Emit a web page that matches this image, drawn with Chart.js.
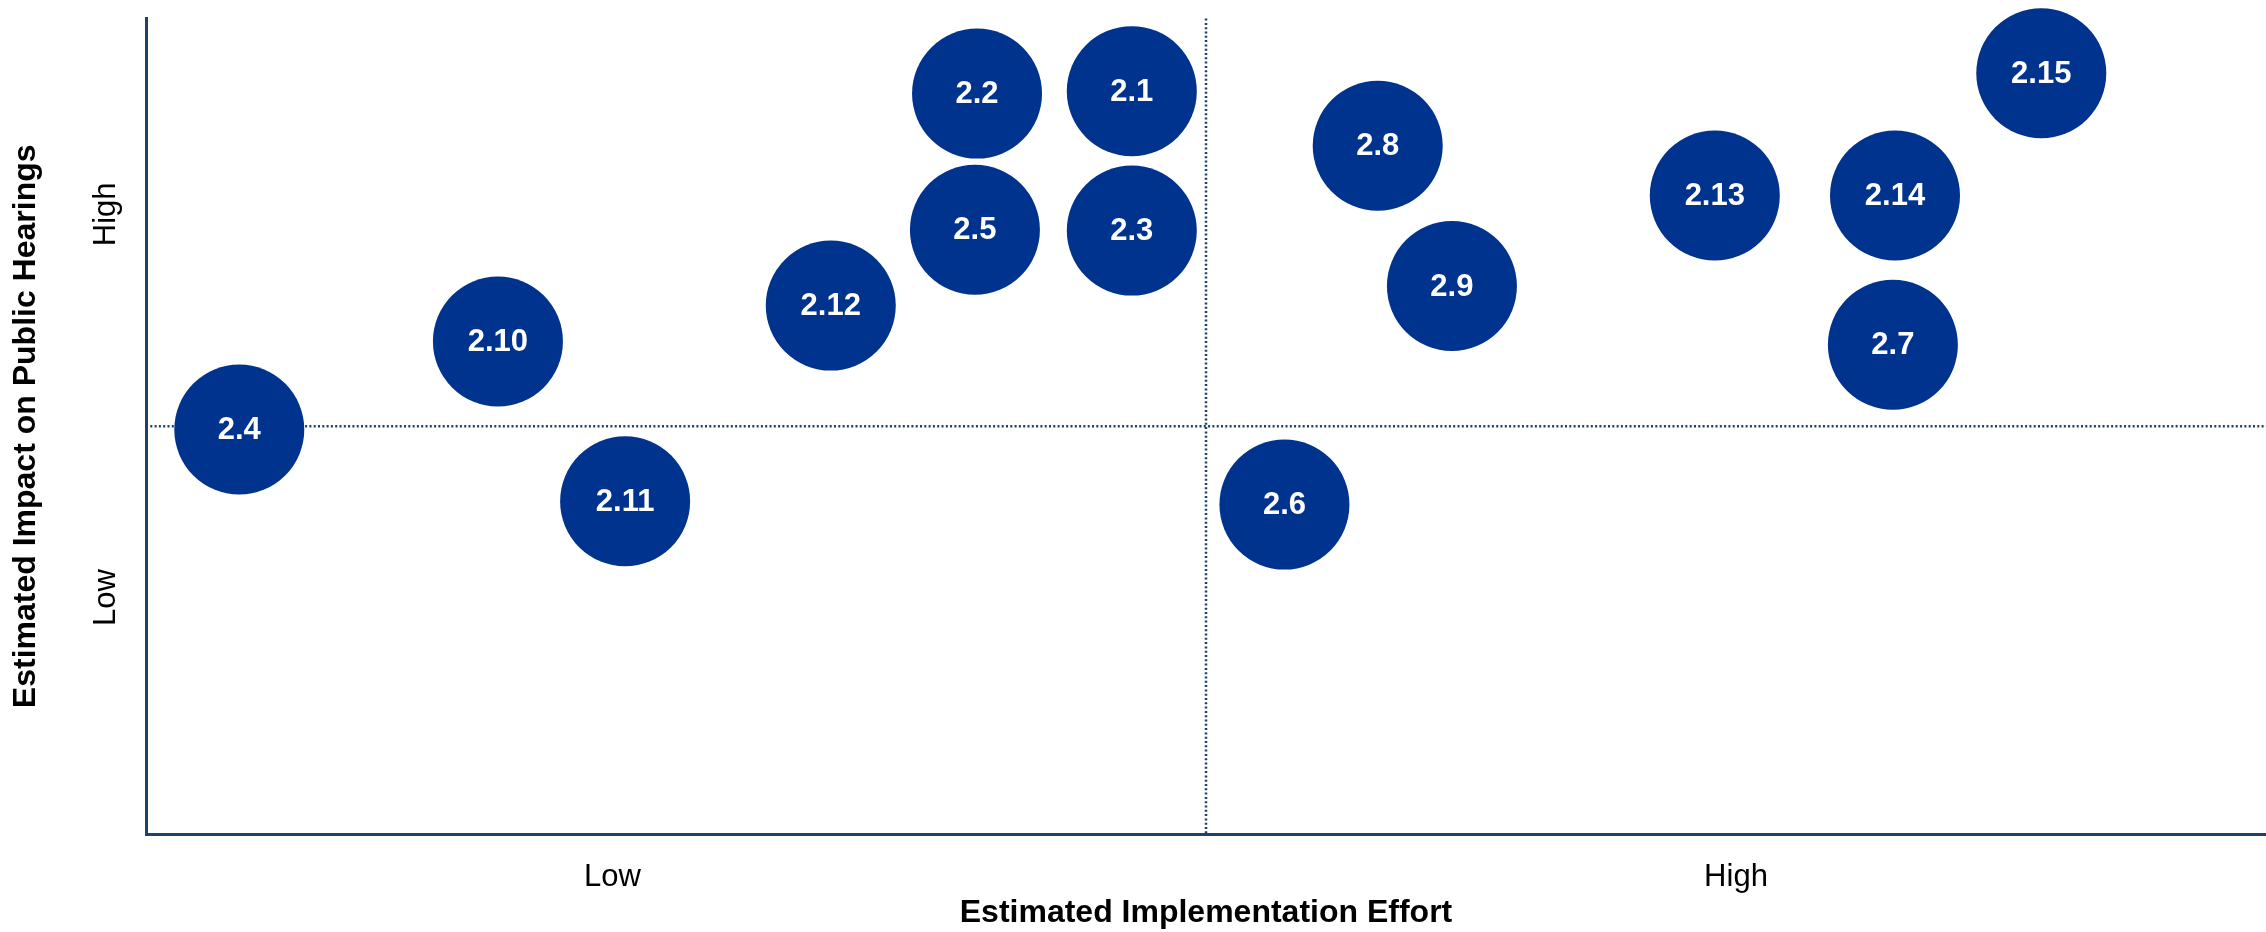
<!DOCTYPE html>
<html>
<head>
    <title>Impact vs Effort</title>
    <script src="https://cdn.jsdelivr.net/npm/chart.js"></script>
    <style>
        html, body {
            margin: 0;
            padding: 0;
            background: #fff;
        }
        .chart-container {
            width: 2266px;
            height: 932px;
        }
    </style>
</head>
<body>
    <div class="chart-container">
        <canvas id="matrixChart"></canvas>
    </div>
    <script>
        // recommendation ids and their estimated positions (0-10 scale, 5 = split)
        const itemLabels = ['2.1', '2.2', '2.3', '2.4', '2.5', '2.6', '2.7', '2.8', '2.9', '2.10', '2.11', '2.12', '2.13', '2.14', '2.15'];
        const effortValues = [4.65, 3.92, 4.65, 0.44, 3.91, 5.37, 8.24, 5.81, 6.16, 1.66, 2.26, 3.23, 7.40, 8.25, 8.94];
        const impactValues = [9.11, 9.08, 7.40, 4.96, 7.41, 4.04, 6.00, 8.44, 6.72, 6.04, 4.08, 6.48, 7.83, 7.83, 9.33];

        const xTickValues = [2.2, 7.5];
        const xTickLabels = ['Low', 'High'];
        const yTickValues = [2.9, 7.6];
        const yTickLabels = ['Low', 'High'];
        const splitValue = 5;

        const fontFamily = "'Liberation Sans', Arial, sans-serif";
        const navy = '#00338D';
        const axisColor = '#1F4068';

        // white ids drawn on top of each bubble
        const bubbleLabels = {
            id: 'bubbleLabels',
            afterDatasetsDraw(chart) {
                const ctx = chart.ctx;
                const meta = chart.getDatasetMeta(0);
                ctx.save();
                ctx.fillStyle = '#ffffff';
                ctx.font = 'bold 31px ' + fontFamily;
                ctx.textAlign = 'center';
                ctx.textBaseline = 'middle';
                meta.data.forEach((el, i) => {
                    ctx.fillText(itemLabels[i], el.x, el.y + 1);
                });
                ctx.restore();
            }
        };

        // dotted quadrant lines at the middle of both scales
        const quadrantLines = {
            id: 'quadrantLines',
            beforeDatasetsDraw(chart) {
                const ctx = chart.ctx;
                const area = chart.chartArea;
                const px = chart.scales.x.getPixelForValue(splitValue);
                const py = chart.scales.y.getPixelForValue(splitValue);
                ctx.save();
                ctx.strokeStyle = axisColor;
                ctx.lineWidth = 2.5;
                ctx.setLineDash([2, 2.3]);
                ctx.beginPath();
                ctx.moveTo(px, area.top);
                ctx.lineTo(px, area.bottom);
                ctx.moveTo(area.left, py);
                ctx.lineTo(area.right, py);
                ctx.stroke();
                ctx.restore();
            }
        };

        const ctx = document.getElementById('matrixChart').getContext('2d');
        new Chart(ctx, {
            type: 'bubble',
            data: {
                datasets: [{
                    data: effortValues.map((x, i) => ({ x: x, y: impactValues[i], r: 65 })),
                    backgroundColor: navy,
                    borderWidth: 0,
                    hoverBackgroundColor: navy,
                    clip: false
                }]
            },
            options: {
                responsive: true,
                maintainAspectRatio: false,
                animation: false,
                layout: {
                    autoPadding: false,
                    padding: { top: 8, right: 0, left: 0, bottom: 0 }
                },
                plugins: {
                    legend: { display: false },
                    tooltip: { enabled: false }
                },
                scales: {
                    x: {
                        type: 'linear',
                        min: 0,
                        max: 10,
                        afterFit: (scale) => { scale.height = 98; },
                        afterBuildTicks: (scale) => {
                            scale.ticks = xTickValues.map(v => ({ value: v }));
                        },
                        grid: { display: false },
                        border: { display: true, color: axisColor, width: 3 },
                        ticks: {
                            padding: 17,
                            color: '#000',
                            font: { family: fontFamily, size: 31 },
                            maxRotation: 0,
                            callback: (value) => xTickLabels[xTickValues.indexOf(value)]
                        },
                        title: {
                            display: true,
                            text: 'Estimated Implementation Effort',
                            color: '#000',
                            font: { family: fontFamily, size: 32, weight: 'bold' },
                            padding: { top: 0, bottom: 0 }
                        }
                    },
                    y: {
                        type: 'linear',
                        min: 0,
                        max: 10,
                        afterFit: (scale) => { scale.width = 146; },
                        afterBuildTicks: (scale) => {
                            scale.ticks = yTickValues.map(v => ({ value: v }));
                        },
                        grid: { display: false },
                        border: { display: true, color: axisColor, width: 3 },
                        ticks: {
                            padding: 0,
                            color: '#000',
                            crossAlign: 'center',
                            minRotation: 90,
                            maxRotation: 90,
                            font: { family: fontFamily, size: 31 },
                            callback: (value) => yTickLabels[yTickValues.indexOf(value)]
                        },
                        title: {
                            display: true,
                            text: 'Estimated Impact on Public Hearings',
                            color: '#000',
                            font: { family: fontFamily, size: 32, weight: 'bold' },
                            padding: { top: 7, bottom: 0 }
                        }
                    }
                }
            },
            plugins: [quadrantLines, bubbleLabels]
        });
    </script>
</body>
</html>
